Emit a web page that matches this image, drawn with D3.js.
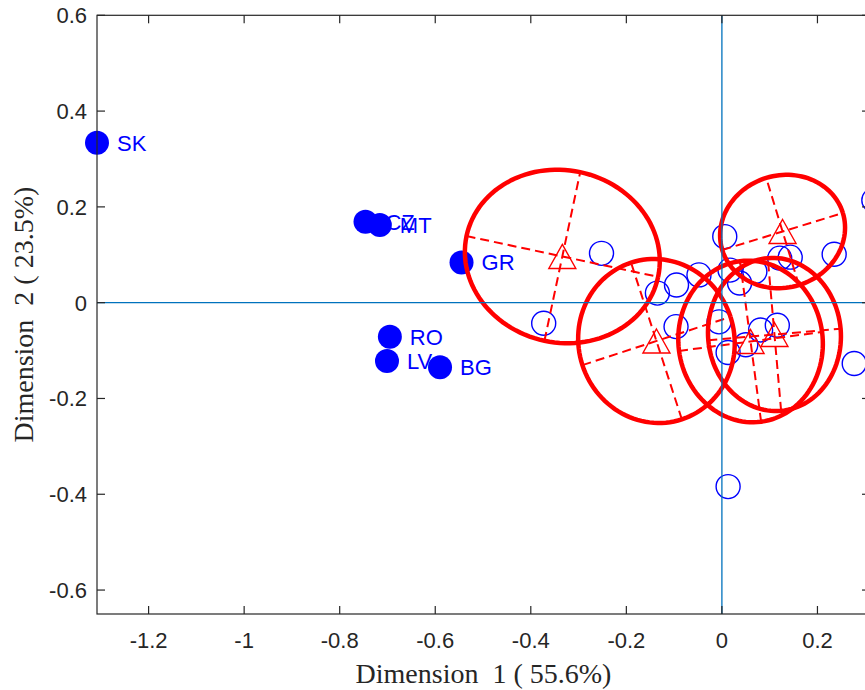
<!DOCTYPE html>
<html>
<head>
<meta charset="utf-8">
<script src="https://cdn.jsdelivr.net/npm/d3@7"></script>
<style>
  html, body { margin: 0; padding: 0; background: #fff; }
  svg { display: block; }
  .tick-label { font-family: "Liberation Sans", Arial, sans-serif; font-size: 22px; fill: #262626; }
  .pt-label { font-family: "Liberation Sans", Arial, sans-serif; font-size: 22px; fill: #0000ff; }
  .axis-title { font-family: "Liberation Serif", "Times New Roman", serif; font-size: 28px; fill: #262626; }
</style>
</head>
<body>
<svg id="chart" width="865" height="690"></svg>
<script>
// Labelled countries (filled markers)
const labelNames = ['SK', 'CZ', 'MT', 'GR', 'RO', 'LV', 'BG'];
const labelX = [-1.308, -0.746, -0.716, -0.545, -0.695, -0.701, -0.590];
const labelY = [0.334, 0.169, 0.162, 0.084, -0.071, -0.122, -0.135];

// Other countries (open markers)
const openX = [-0.373, -0.252, -0.135, -0.095, -0.096, -0.048, 0.006, 0.017, 0.037, 0.069,
               0.121, 0.143, 0.235, -0.006, 0.081, 0.116, 0.013, 0.050, 0.277, 0.318, 0.013];
const openY = [-0.043, 0.103, 0.020, 0.037, -0.050, 0.058, 0.138, 0.068, 0.041, 0.065,
               0.093, 0.095, 0.101, -0.040, -0.057, -0.047, -0.104, -0.088, -0.127, 0.214, -0.384];

// Group ellipses: centre, two semi axes, rotation of first axis (degrees)
const ellCx = [-0.334, -0.137, 0.127, 0.060, 0.110];
const ellCy = [0.0965, -0.080, 0.1486, -0.081, -0.0664];
const ellR1 = [0.205, 0.163, 0.132, 0.151, 0.139];
const ellR2 = [0.180, 0.172, 0.117, 0.169, 0.160];
const ellAngle = [-12, 18, 17, 7.5, 5];

const xTicks = [-1.2, -1, -0.8, -0.6, -0.4, -0.2, 0, 0.2];
const yTicks = [-0.6, -0.4, -0.2, 0, 0.2, 0.4, 0.6];
const xTitle = 'Dimension  1 ( 55.6%)';
const yTitle = 'Dimension  2 ( 23.5%)';

const svg = d3.select('#chart');
const pL = 97, pR = 870, pT = 15.3, pB = 614;

const x = d3.scaleLinear().domain([-1.308, 0.31]).range([pL, pR]);
const y = d3.scaleLinear().domain([-0.65, 0.6]).range([pB, pT]);
const fmt = v => String(+v.toFixed(1));

const RED = '#ff0000', BLUE = '#0000ff', AXIS = '#262626';

// open markers
svg.append('g').selectAll('circle').data(openX.map((v, i) => [v, openY[i]])).join('circle')
    .attr('cx', d => x(d[0])).attr('cy', d => y(d[1])).attr('r', 12)
    .attr('fill', 'none').attr('stroke', BLUE).attr('stroke-width', 1.4);

// filled markers + labels (CZ / MT overlap in the original too)
const lab = svg.append('g').selectAll('g').data(labelNames.map((n, i) => ({ n, x: labelX[i], y: labelY[i] }))).join('g');
lab.append('circle')
    .attr('cx', d => x(d.x)).attr('cy', d => y(d.y)).attr('r', 12).attr('fill', BLUE);
lab.append('text').attr('class', 'pt-label')
    .attr('x', d => x(d.x) + 20).attr('y', d => y(d.y)).attr('dy', '0.36em')
    .text(d => d.n);

// ellipses
const ellipses = ellCx.map((cx, i) => ({
    cx, cy: ellCy[i], r1: ellR1[i], r2: ellR2[i], a: ellAngle[i] * Math.PI / 180
}));
const line = d3.line().x(p => x(p[0])).y(p => y(p[1]));
const eg = svg.append('g').selectAll('g').data(ellipses).join('g');

eg.append('path')
    .attr('d', e => {
        const pts = d3.range(0, 361, 3).map(t => {
            const r = t * Math.PI / 180;
            const u = e.r1 * Math.cos(r), v = e.r2 * Math.sin(r);
            return [e.cx + u * Math.cos(e.a) - v * Math.sin(e.a), e.cy + u * Math.sin(e.a) + v * Math.cos(e.a)];
        });
        return line(pts);
    })
    .attr('fill', 'none').attr('stroke', RED).attr('stroke-width', 4.5);

// dashed principal axes
eg.append('path')
    .attr('d', e => {
        const c = Math.cos(e.a), s = Math.sin(e.a);
        return line([[e.cx - e.r1 * c, e.cy - e.r1 * s], [e.cx + e.r1 * c, e.cy + e.r1 * s]]) +
               line([[e.cx + e.r2 * s, e.cy - e.r2 * c], [e.cx - e.r2 * s, e.cy + e.r2 * c]]);
    })
    .attr('fill', 'none').attr('stroke', RED).attr('stroke-width', 2).attr('stroke-dasharray', '9,5');

// centre triangles
eg.append('path')
    .attr('transform', e => `translate(${x(e.cx)},${y(e.cy)})`)
    .attr('d', 'M0,-12L13.5,12L-13.5,12Z')
    .attr('fill', 'none').attr('stroke', RED).attr('stroke-width', 1.4);

// zero lines
svg.append('line').attr('x1', pL).attr('x2', pR).attr('y1', y(0)).attr('y2', y(0))
    .attr('stroke', '#0072bd').attr('stroke-width', 1.3);
svg.append('line').attr('x1', x(0)).attr('x2', x(0)).attr('y1', pT).attr('y2', pB)
    .attr('stroke', '#0072bd').attr('stroke-width', 1.3);

// box + inward ticks
const ax = svg.append('g').attr('stroke', AXIS).attr('stroke-width', 1.2).attr('fill', 'none');
ax.append('rect').attr('x', pL).attr('y', pT).attr('width', pR - pL).attr('height', pB - pT);
xTicks.forEach(t => {
    ax.append('line').attr('x1', x(t)).attr('x2', x(t)).attr('y1', pB).attr('y2', pB - 8);
    ax.append('line').attr('x1', x(t)).attr('x2', x(t)).attr('y1', pT).attr('y2', pT + 8);
});
yTicks.forEach(t => {
    ax.append('line').attr('x1', pL).attr('x2', pL + 8).attr('y1', y(t)).attr('y2', y(t));
    ax.append('line').attr('x1', pR).attr('x2', pR - 8).attr('y1', y(t)).attr('y2', y(t));
});

svg.append('g').selectAll('text').data(xTicks).join('text').attr('class', 'tick-label')
    .attr('x', d => x(d)).attr('y', 648).attr('text-anchor', 'middle').text(fmt);
svg.append('g').selectAll('text').data(yTicks).join('text').attr('class', 'tick-label')
    .attr('x', pL - 10).attr('y', d => y(d)).attr('dy', '0.36em').attr('text-anchor', 'end').text(fmt);

svg.append('text').attr('class', 'axis-title')
    .attr('x', (pL + pR) / 2).attr('y', 683).attr('text-anchor', 'middle')
    .style('white-space', 'pre').text(xTitle);
svg.append('text').attr('class', 'axis-title')
    .attr('transform', `translate(33,${(pT + pB) / 2}) rotate(-90)`).attr('text-anchor', 'middle')
    .style('white-space', 'pre').text(yTitle);
</script>
</body>
</html>
